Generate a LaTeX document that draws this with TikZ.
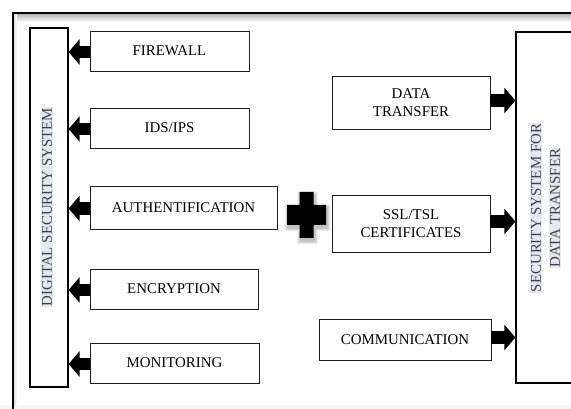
\documentclass[tikz,border=0pt]{standalone}
\usepackage{fontspec}
\setmainfont{Liberation Serif}
\usetikzlibrary{arrows.meta,calc}
\definecolor{hl}{RGB}{230,232,239}
\definecolor{labelgray}{RGB}{62,66,82}
\definecolor{edge}{RGB}{30,30,30}
\tikzset{
  item/.style={draw=edge, line width=0.8pt, fill=white, align=center, inner sep=2pt,
    font=\fontsize{14.9}{17.5}\selectfont},
  tallbox/.style={draw=black, line width=1.2pt, fill=white},
  sidelabel/.style={rotate=90, fill=hl, inner sep=0.6pt, text=labelgray,
    font=\fontsize{14.9}{17.5}\selectfont},
  blockarrow/.style={line width=12.5pt, black,
    -{Triangle[length=11pt 0 0, width=25pt 0 0]}},
}
\begin{document}
\begin{tikzpicture}[x=1pt,y=-1pt]
\useasboundingbox (0,0) rectangle (571,409);
\clip (0,0) rectangle (571,409);
\fill[white] (0,0) rectangle (571,409);

% outer frame with a soft shadow under the top rule
\shade[top color=black!28, bottom color=white] (14,14) rectangle (571,22);
\shade[left color=black!12, right color=white] (14,14) rectangle (17,409);
\fill[black!4] (0,405) rectangle (571,409);
\draw[line width=1.4pt, black] (13,409) -- (13,13) -- (571,13);

% the two collecting boxes
\node[tallbox, minimum width=38pt, minimum height=359pt] (dss) at (49,207.5) {};
\node[sidelabel] (dsslabel) at (47,207) {DIGITAL SECURITY SYSTEM};

\node[tallbox, minimum width=62pt, minimum height=351pt] (sec) at (547,207.5) {};
\node[sidelabel] (seclabel1) at (536,208) {SECURITY SYSTEM FOR};
\node[sidelabel] (seclabel2) at (555,208) {DATA TRANSFER};

% left column
\node[item, minimum width=159pt, minimum height=40pt] (fw)   at (169.5,51)   {FIREWALL};
\node[item, minimum width=159pt, minimum height=40pt] (ids)  at (169.5,128)  {IDS/IPS};
\node[item, minimum width=187pt, minimum height=43pt] (auth) at (183.5,207.5){AUTHENTIFICATION};
\node[item, minimum width=168pt, minimum height=40pt] (enc)  at (174,289)    {ENCRYPTION};
\node[item, minimum width=169pt, minimum height=40pt] (mon)  at (174.5,363)  {MONITORING};

% right column
\node[item, minimum width=158pt, minimum height=53pt] (data) at (411,102.5)  {DATA\\TRANSFER};
\node[item, minimum width=158pt, minimum height=57pt] (ssl)  at (411,223.5)  {SSL/TSL\\CERTIFICATES};
\node[item, minimum width=172pt, minimum height=41pt] (comm) at (405,339.5)  {COMMUNICATION};

% block arrows into the collecting boxes
\foreach \n in {fw,ids,auth,enc,mon}
  \draw[blockarrow] ($(\n.west)+(0,1)$) -- ($(\n.west -| dss.east)+(0,1)$);
\foreach \n in {data,ssl,comm}
  \draw[blockarrow] ($(\n.east)+(0,-2)$) -- ($(\n.east -| sec.west)+(0,-2)$);

% plus sign with a soft, diffuse shadow
\node[inner sep=0pt, minimum size=0pt] (plus) at (306.5,215) {};
\foreach \d in {7,6,5,4,3,2,1}{
  \fill[black, opacity=0.035]
    ($(plus)+(-19.5-\d/2,-10-\d/2)+(1,3)$) rectangle ($(plus)+(19.5+\d/2,10+\d/2)+(1,3)$)
    ($(plus)+(-7-\d/2,-23-\d/2)+(1,3)$) rectangle ($(plus)+(7+\d/2,-10-\d/2)+(1,3)$)
    ($(plus)+(-7-\d/2,10+\d/2)+(1,3)$) rectangle ($(plus)+(7+\d/2,23+\d/2)+(1,3)$);
}
\fill[black] ($(plus)+(-19.5,-10)$) rectangle ($(plus)+(19.5,10)$)
             ($(plus)+(-7,-23)$) rectangle ($(plus)+(7,23)$);
\end{tikzpicture}
\end{document}
